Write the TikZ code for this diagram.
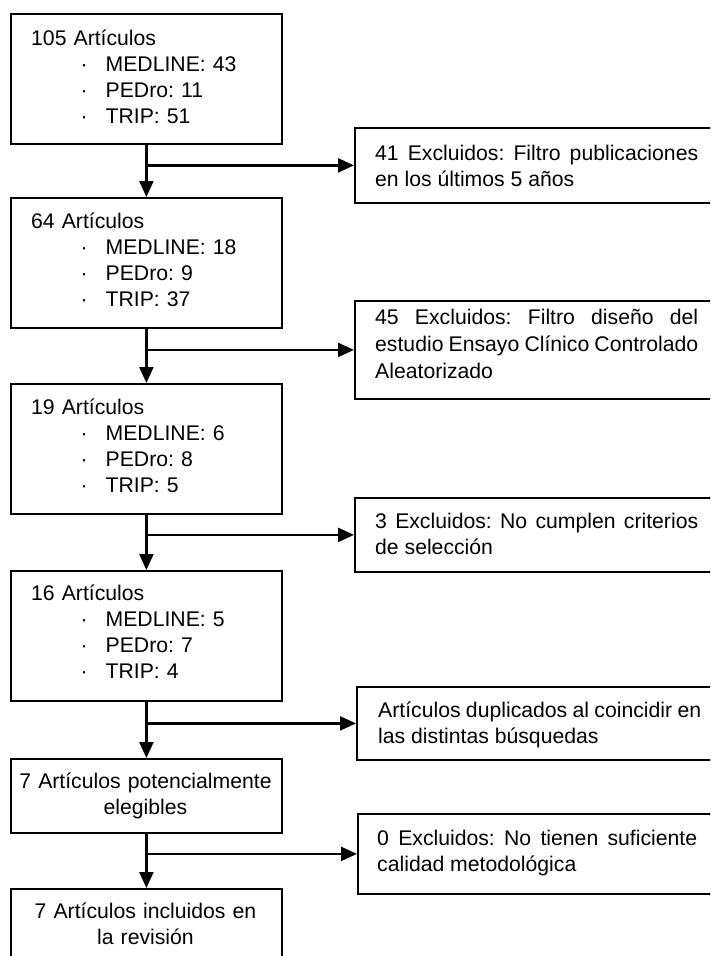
\documentclass[tikz,border=0pt]{standalone}
\usepackage{fontspec}
\setmainfont{Liberation Sans}
\usetikzlibrary{arrows.meta}
\frenchspacing
\newcommand{\bul}[1]{\hspace*{49.4pt}\makebox[25.1pt][l]{·}#1}
\begin{document}
\begin{tikzpicture}[x=1pt,y=-1pt,
  lbox/.style={draw,line width=1.8pt,anchor=north west,inner sep=0pt,minimum width=271pt},
  rbox/.style={draw,line width=1.8pt,anchor=north west,inner sep=0pt,minimum width=366pt},
  txt/.style={anchor=base west,inner sep=0pt,text width=#1,font=\fontsize{21.2}{26}\selectfont\frenchspacing},
  ctxt/.style={anchor=base,inner sep=0pt,text width=262pt,align=center,font=\fontsize{21.2}{26}\selectfont\frenchspacing},
  arr/.style={line width=2.3pt,-{Triangle[length=16pt,width=14pt]}}]
\useasboundingbox (0,0) rectangle (710,956);
\clip (0,0) rectangle (710,956);

% left column
\node[lbox,minimum height=130pt] (b1) at (10,13) {};
\node[txt=245pt,align=left] (t1) at (31,45) {105 Artículos\\\bul{MEDLINE: 43}\\\bul{PEDro: 11}\\\bul{TRIP: 51}};
\node[lbox,minimum height=130pt] (b2) at (10,197) {};
\node[txt=245pt,align=left] (t2) at (31,228.3) {64 Artículos\\\bul{MEDLINE: 18}\\\bul{PEDro: 9}\\\bul{TRIP: 37}};
\node[lbox,minimum height=130pt] (b3) at (10,383) {};
\node[txt=245pt,align=left] (t3) at (31,414.3) {19 Artículos\\\bul{MEDLINE: 6}\\\bul{PEDro: 8}\\\bul{TRIP: 5}};
\node[lbox,minimum height=130pt] (b4) at (10,570) {};
\node[txt=245pt,align=left] (t4) at (31,600.5) {16 Artículos\\\bul{MEDLINE: 5}\\\bul{PEDro: 7}\\\bul{TRIP: 4}};
\node[lbox,minimum height=74pt] (b5) at (10,758) {};
\node[ctxt] (t5) at (145.5,788.3) {7 Artículos potencialmente\\elegibles};
\node[lbox,minimum height=90pt] (b6) at (10,888) {};
\node[ctxt] (t6) at (145.5,918.3) {7 Artículos incluidos en\\la revisión};

% right column
\node[rbox,minimum height=75pt] (r1) at (354,127) {};
\node[txt=323pt,align=justify] (s1) at (375,160) {41 Excluidos: Filtro publicaciones\linebreak en los últimos 5 años};
\node[rbox,minimum height=98pt] (r2) at (354,300) {};
\node[txt=323pt,align=justify,font=\fontsize{21.2}{27}\selectfont\frenchspacing] (s2) at (375,324) {45 Excluidos: Filtro diseño del\linebreak estudio Ensayo Clínico Controlado\linebreak Aleatorizado};
\node[rbox,minimum height=74pt] (r3) at (354,497) {};
\node[txt=323pt,align=justify] (s3) at (375,528.3) {3 Excluidos: No cumplen criterios\linebreak de selección};
\node[rbox,minimum height=73pt] (r4) at (356,686) {};
\node[txt=323pt,align=justify] (s4) at (378,717) {Artículos duplicados al coincidir en\linebreak las distintas búsquedas};
\node[rbox,minimum height=80pt] (r5) at (357,813) {};
\node[txt=320pt,align=justify] (s5) at (377,845) {0 Excluidos: No tienen suficiente\linebreak calidad metodológica};

% connectors
\draw[arr] (b1.south) -- (b2.north);
\draw[arr] (b2.south) -- (b3.north);
\draw[arr] (b3.south) -- (b4.north);
\draw[arr] (b4.south) -- (b5.north);
\draw[arr] (b5.south) -- (b6.north);
\draw[arr] (b1.south |- r1.west) -- (r1.west);
\draw[arr] (b2.south |- r2.west) -- (r2.west);
\draw[arr] (b3.south |- r3.west) -- (r3.west);
\draw[arr] (b4.south |- r4.west) -- (r4.west);
\draw[arr] (b5.south |- r5.west) -- (r5.west);
\end{tikzpicture}
\end{document}
